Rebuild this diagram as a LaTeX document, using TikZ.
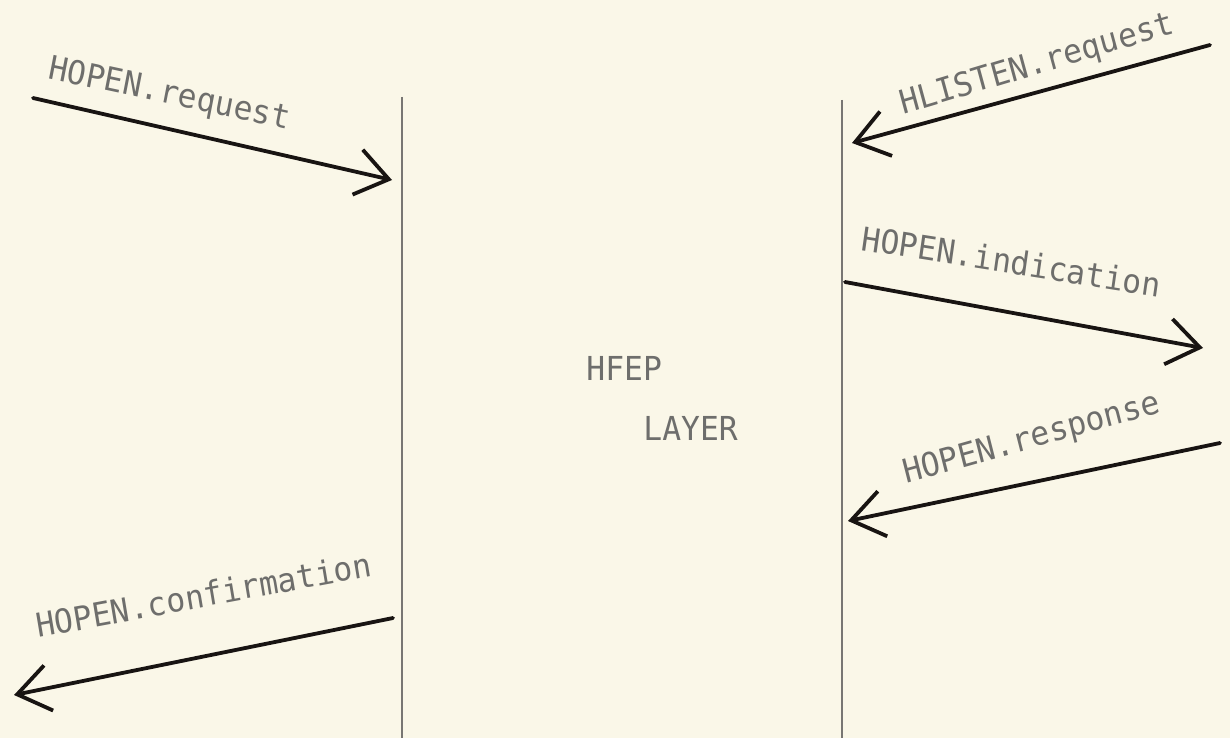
\documentclass[tikz,border=0pt]{standalone}
\usepackage{fontspec}
\newfontfamily\plotfont{DejaVu Sans Mono}
\usetikzlibrary{arrows.meta}
\definecolor{paper}{RGB}{250,247,232}
\definecolor{ink}{RGB}{24,20,18}
\definecolor{pencil}{RGB}{110,110,108}
\definecolor{rule}{RGB}{120,118,115}
\begin{document}
\begin{tikzpicture}[x=0.5pt,y=-0.5pt,
  lifeline/.style={draw=rule,line width=0.8pt},
  msg/.style={draw=ink,line width=1.9pt,line cap=round,
    -{Straight Barb[length=16pt,width=23pt,line width=1.9pt]}},
  lbl/.style={inner sep=0pt,anchor=base west,text=pencil,
    font=\plotfont\fontsize{16.5}{16.5}\selectfont,xscale=0.95}]
\fill[paper] (0,0) rectangle (1230,738);
\useasboundingbox (0,0) rectangle (1230,738);
% lifelines
\coordinate (Ltop) at (402,97);
\coordinate (Lbot) at (402,738);
\coordinate (Rtop) at (842,100);
\coordinate (Rbot) at (842,738);
\draw[lifeline] (Ltop) -- (Lbot);
\draw[lifeline] (Rtop) -- (Rbot);
% message end points
\coordinate (a1) at (33,98);
\coordinate (a2) at (392,180);
\coordinate (b1) at (1210,45);
\coordinate (b2) at (852,143);
\coordinate (c1) at (845,282);
\coordinate (c2) at (1203,348);
\coordinate (d1) at (1220,443);
\coordinate (d2) at (848,521);
\coordinate (e1) at (393,618);
\coordinate (e2) at (14,695);
\draw[msg] (a1) -- (a2);
\draw[msg] (b1) -- (b2);
\draw[msg] (c1) -- (c2);
\draw[msg] (d1) -- (d2);
\draw[msg] (e1) -- (e2);
% labels
\node[lbl,rotate=-11.5] (t1) at (47,78) {HOPEN.request};
\node[lbl,rotate=16] (t2) at (903,115) {HLISTEN.request};
\node[lbl,rotate=-8.5] (t3) at (860,250) {HOPEN.indication};
\node[lbl,rotate=15] (t4) at (906,484) {HOPEN.response};
\node[lbl,rotate=10] (t5) at (38,638) {HOPEN.confirmation};
\node[lbl] (t6) at (586,380) {HFEP};
\node[lbl] (t7) at (643,440) {LAYER};
\end{tikzpicture}
\end{document}
